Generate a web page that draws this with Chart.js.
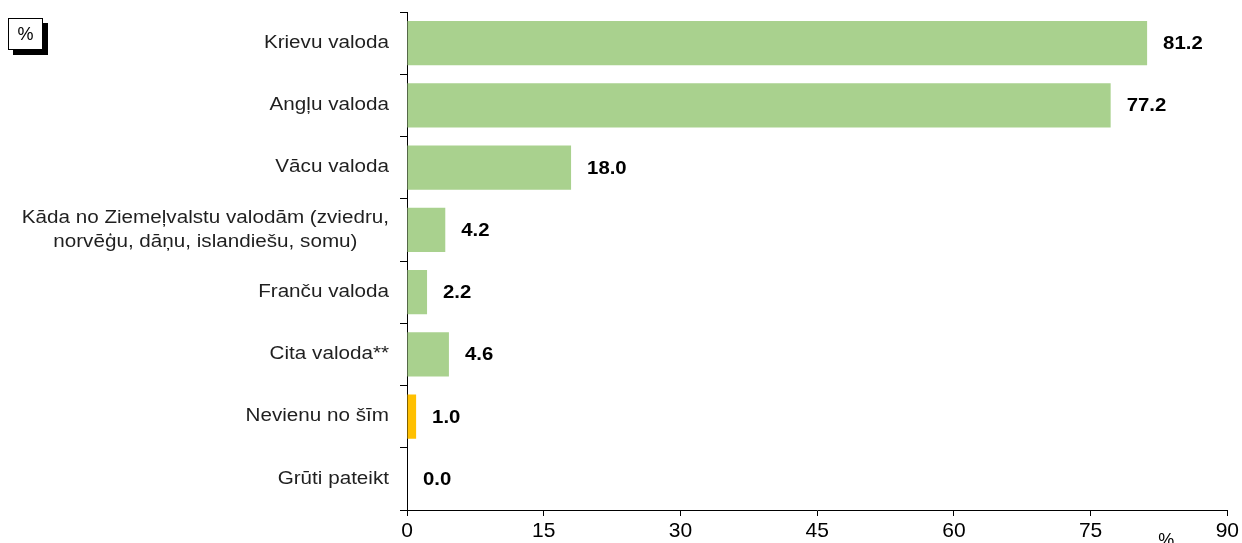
<!DOCTYPE html>
<html lang="lv">
<head>
<meta charset="utf-8">
<title>Valodas</title>
<script src="https://cdn.jsdelivr.net/npm/chart.js@4.4.1/dist/chart.umd.min.js"></script>
<style>
  html, body { margin: 0; padding: 0; background: #fff; }
  #wrap { position: relative; width: 1242px; height: 543px; overflow: hidden; }
  #chart { position: absolute; left: 0; top: 0; }
  .unit-box {
    position: absolute; left: 8px; top: 18px; width: 35px; height: 32px;
    box-sizing: border-box; border: 1px solid #000; background: #fff;
    box-shadow: 5px 5px 0 #000;
    font: 18px 'Liberation Sans', Arial, sans-serif; color: #000;
    display: flex; align-items: center; justify-content: center;
  }
</style>
</head>
<body>
<div id="wrap">
  <canvas id="chart" width="1242" height="543"></canvas>
  <div class="unit-box">%</div>
</div>
<script>
// Valodas (% no respondentiem)
const categories = [
  'Krievu valoda',
  'Angļu valoda',
  'Vācu valoda',
  ['Kāda no Ziemeļvalstu valodām (zviedru,', 'norvēģu, dāņu, islandiešu, somu)'],
  'Franču valoda',
  'Cita valoda**',
  'Nevienu no šīm',
  'Grūti pateikt'
];
const values = [81.2, 77.2, 18.0, 4.2, 2.2, 4.6, 1.0, 0.0];
const barColors = ['#A9D18E', '#A9D18E', '#A9D18E', '#A9D18E', '#A9D18E', '#A9D18E', '#FFC000', '#A9D18E'];
const xTicks = [0, 15, 30, 45, 60, 75, 90];
const axisUnit = '%';

const FONT = "'Liberation Sans', Arial, sans-serif";

// draws text stretched horizontally by factor sx, anchored at (x, y)
function stretchedText(ctx, text, x, y, sx, align) {
  ctx.save();
  ctx.translate(x, y);
  ctx.scale(sx, 1);
  ctx.textAlign = align;
  ctx.fillText(text, 0, 0);
  ctx.restore();
}

const labelPlugin = {
  id: 'labelPlugin',
  afterDraw(chart) {
    const ctx = chart.ctx;
    const yScale = chart.scales.y;
    const xScale = chart.scales.x;
    const area = chart.chartArea;

    // category labels, right-aligned left of the axis
    const catSX = 1.18;
    const rightEdge = area.left - 18;
    ctx.save();
    ctx.fillStyle = '#1f1f1f';
    ctx.font = '17.5px ' + FONT;
    ctx.textBaseline = 'middle';
    categories.forEach((lab, i) => {
      const cy = yScale.getPixelForValue(i);
      const lines = Array.isArray(lab) ? lab : [lab];
      const widths = lines.map(l => ctx.measureText(l).width * catSX);
      const maxW = Math.max(...widths);
      const lh = 24;
      const y0 = cy - (lines.length - 1) * lh / 2;
      lines.forEach((l, k) => {
        stretchedText(ctx, l, rightEdge - maxW / 2, y0 + k * lh, catSX, 'center');
      });
    });
    ctx.restore();

    // value labels next to each bar
    const meta = chart.getDatasetMeta(0);
    ctx.save();
    ctx.fillStyle = '#000';
    ctx.font = 'bold 18px ' + FONT;
    ctx.textBaseline = 'middle';
    meta.data.forEach((bar, i) => {
      stretchedText(ctx, values[i].toFixed(1), bar.x + 16, bar.y + 1, 1.13, 'left');
    });
    ctx.restore();

    // axis unit
    ctx.save();
    ctx.fillStyle = '#000';
    ctx.font = '18px ' + FONT;
    ctx.textBaseline = 'middle';
    ctx.textAlign = 'center';
    ctx.fillText(axisUnit, xScale.getPixelForValue(83.3), 541);
    ctx.restore();
  }
};

new Chart(document.getElementById('chart'), {
  type: 'bar',
  data: {
    labels: categories,
    datasets: [{
      data: values,
      backgroundColor: barColors,
      borderWidth: 0,
      categoryPercentage: 1,
      barPercentage: 0.71
    }]
  },
  options: {
    indexAxis: 'y',
    responsive: false,
    animation: false,
    events: [],
    layout: { padding: { left: 0, right: 14, top: 12, bottom: 0 } },
    plugins: { legend: { display: false }, tooltip: { enabled: false } },
    scales: {
      x: {
        min: 0,
        max: 90,
        afterBuildTicks(scale) { scale.ticks = xTicks.map(v => ({ value: v })); },
        ticks: {
          autoSkip: false,
          maxRotation: 0,
          color: '#000',
          padding: 3,
          font: { family: "'Liberation Sans Narrow', 'Liberation Sans', Arial, sans-serif", size: 21 }
        },
        grid: { drawOnChartArea: false, drawTicks: true, tickLength: 6, color: '#000', lineWidth: 1 },
        border: { color: '#000', width: 1 },
        afterFit(scale) { scale.height = 33; }
      },
      y: {
        grid: { drawOnChartArea: false, drawTicks: true, tickLength: 7, color: '#000', lineWidth: 1, offset: true },
        border: { color: '#000', width: 1 },
        ticks: { display: false },
        afterFit(scale) { scale.width = 407; }
      }
    }
  },
  plugins: [labelPlugin]
});
</script>
</body>
</html>
